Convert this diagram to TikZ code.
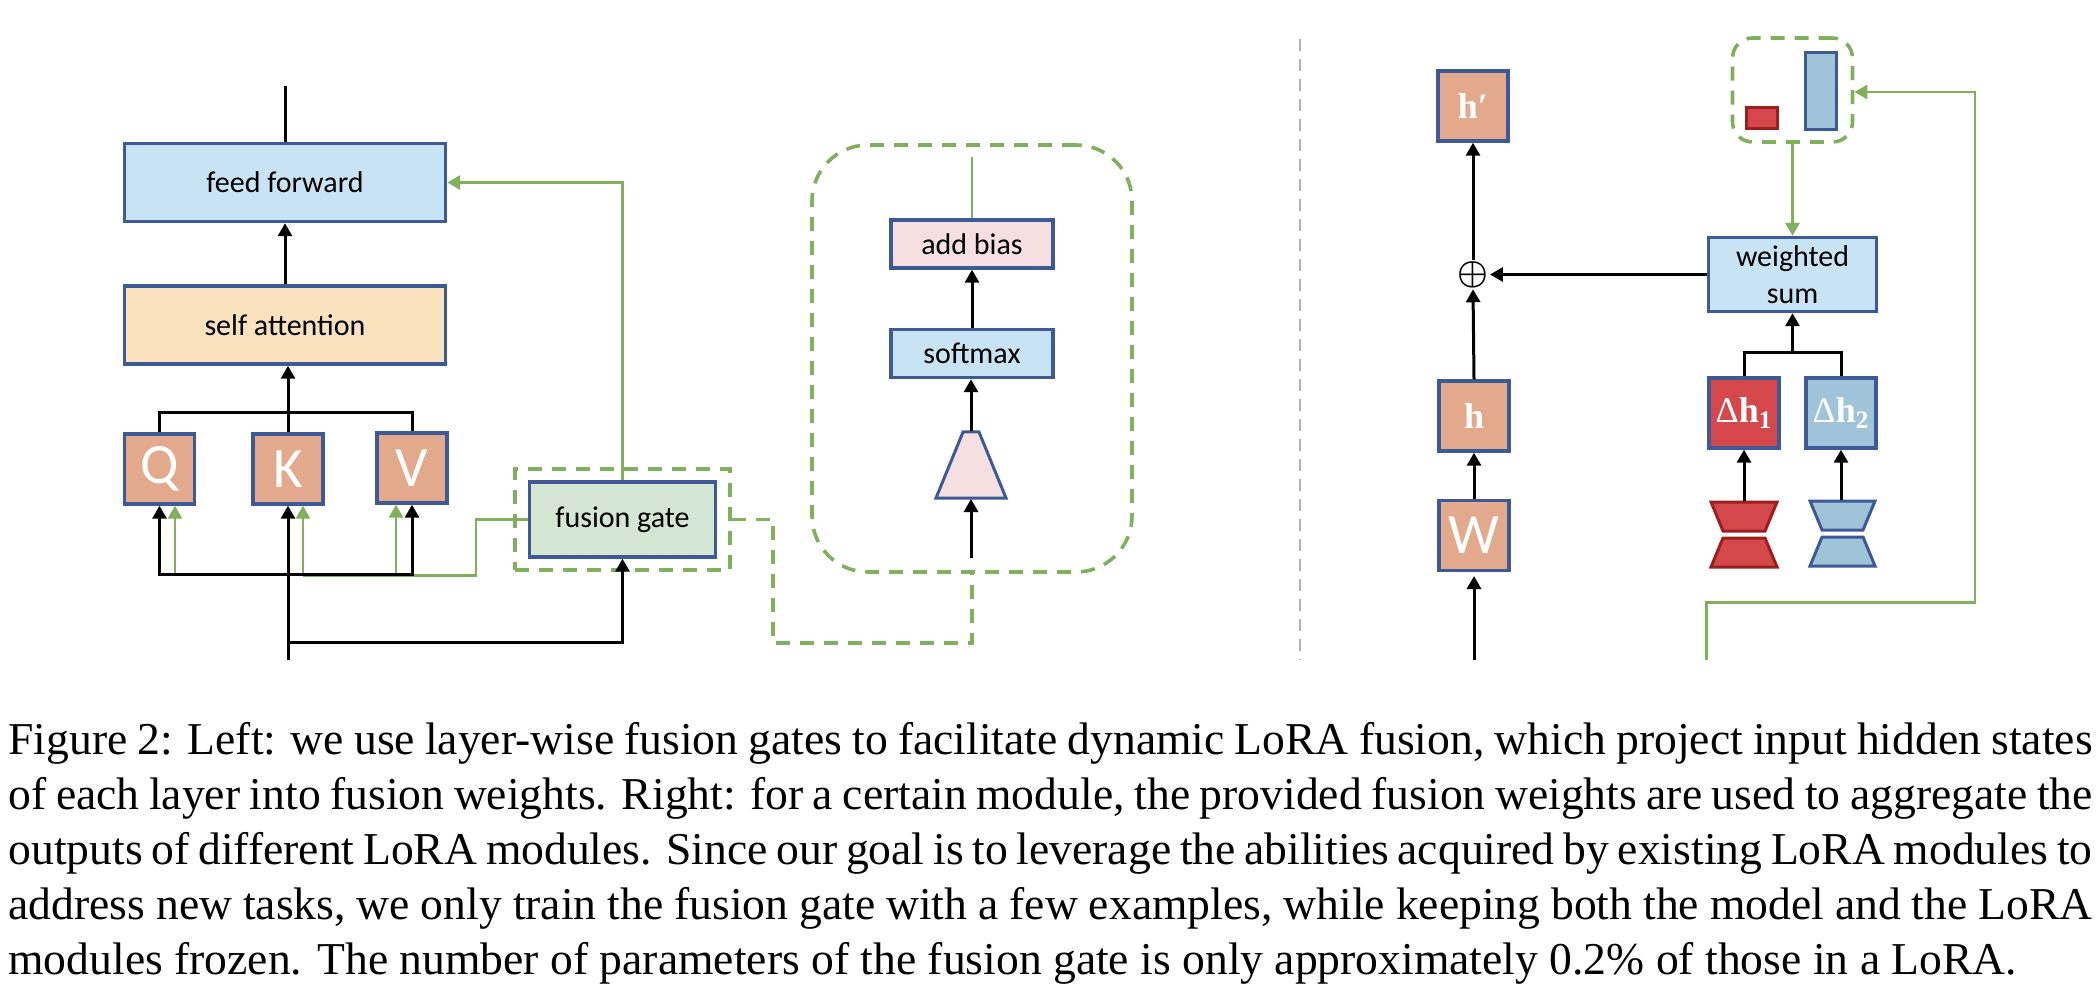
\documentclass[tikz,border=0pt]{standalone}
\usepackage{fontspec}
\setmainfont{Liberation Serif}
\newfontfamily\gillfont{Carlito}
\usetikzlibrary{arrows.meta}
\definecolor{boxline}{HTML}{3D5A96}
\definecolor{gateline}{HTML}{80B05C}
\definecolor{bluefill}{HTML}{C8E4F4}
\definecolor{sandfill}{HTML}{FAE2BE}
\definecolor{hiddenfill}{HTML}{E3A98C}
\definecolor{gatefill}{HTML}{D2E6D2}
\definecolor{pinkfill}{HTML}{F6DFE1}
\definecolor{redfill}{HTML}{D4484C}
\definecolor{redline}{HTML}{9C1F1F}
\definecolor{steelfill}{HTML}{9FC4DA}
\begin{document}
\begin{tikzpicture}[
        x=0.5pt, y=-0.5pt,
        >={Triangle[length=6.5pt,width=7pt]},
        every path/.style={line width=1.5pt, line cap=butt},
        block/.style={rectangle, draw=boxline, line width=1.7pt, inner sep=0pt, font=\gillfont\fontsize{15}{18.5}\selectfont},
        wide_block/.style={block, minimum width=160.5pt, minimum height=39pt},
        thin_block/.style={block, minimum width=81pt, minimum height=24pt},
        hidden/.style={block, fill=hiddenfill, text=white, minimum width=35pt, minimum height=35pt},
        letter/.style={hidden, font=\gillfont\fontsize{28.5}{28.5}\selectfont},
        state/.style={hidden, font=\bfseries\fontsize{18}{18}\selectfont},
        lora_out/.style={state, font=\fontsize{18}{18}\selectfont},
        trap/.style={draw=boxline, line width=1.5pt, line join=miter},
        green/.style={draw=gateline, line width=1.4pt},
        green_dash/.style={draw=gateline, line width=1.8pt, dash pattern=on 7pt off 5pt},
        dash_box/.style={rectangle, green_dash, inner sep=0pt}
    ]
        \useasboundingbox (0,0) rectangle (2098,994);

        % Left: transformer layer
        \node[wide_block, fill=bluefill] (ff) at (285,182.5) {feed forward};
        \node[wide_block, fill=sandfill] (sa) at (285,325) {self attention};
        \node[letter] (q) at (159.5,469) {Q};
        \node[letter] (k) at (288,469) {K};
        \node[letter] (v) at (412,468) {V};

        % Fusion gate
        \node[dash_box, minimum width=107.5pt, minimum height=50.5pt] (gate_box) at (622.5,519.5) {};
        \node[block, fill=gatefill, minimum width=93pt, minimum height=37.5pt] (gate) at (622.5,519.5) {fusion gate};

        % Inside of the gate
        \node[dash_box, minimum width=160pt, minimum height=213.5pt, rounded corners=28pt] (big_box) at (972,358.5) {};
        \node[thin_block, fill=pinkfill] (bias) at (972,244) {add bias};
        \node[thin_block, fill=bluefill] (softmax) at (972,353.5) {softmax};
        \draw[trap, fill=pinkfill] (963,432) -- (979,432) -- (1006,498) -- (936,498) -- cycle;

        % Coordinates for free ends and bars
        \coordinate (out_top) at (285,86);
        \coordinate (in_k) at (288,660);
        \coordinate (bar_top) at (288,413);
        \coordinate (bar_q) at (159.5,574);
        \coordinate (bar_v) at (412,574);
        \coordinate (in_gate) at (288,642);
        \coordinate (green_q) at (175,575);
        \coordinate (green_k) at (303,575.5);
        \coordinate (green_v) at (396,575.5);
        \coordinate (green_turn) at (476,575.5);
        \coordinate (dash_turn) at (773,643);
        \coordinate (bias_out) at (972,157);
        \coordinate (proj_in) at (971,558);
        \coordinate (proj_bottom) at (971,499);
        \coordinate (proj_top) at (971,431);

        % Green connections left
        \draw[green, ->] (gate.north) |- (ff.east);
        \draw[green] (gate.west) -| (green_turn) -- (green_k);
        \draw[green, ->] (green_q) -- (green_q |- q.south);
        \draw[green, ->] (green_k) -- (green_k |- k.south);
        \draw[green, ->] (green_v) -- (green_v |- v.south);
        \draw[green_dash] (gate_box.east) -| (dash_turn) -| (big_box.south);
        \draw[green] (bias.north) -- (bias_out);

        % Black connections left
        \draw (ff.north) -- (out_top);
        \draw[->] (sa.north) -- (ff.south);
        \draw[->] (k.north) -- (k.north |- sa.south);
        \draw (q.north) |- (bar_top) -| (v.north);
        \draw[->] (in_k) -- (k.south);
        \draw[->, line cap=rect] (bar_v) -- (bar_q) -- (q.south);
        \draw[->] (bar_v) -- (v.south);
        \draw[->] (in_gate) -| (gate.south);
        \draw[->] (softmax.north) -- (bias.south);
        \draw[->] (proj_top) -- (proj_top |- softmax.south);
        \draw[->] (proj_in) -- (proj_bottom);

        % Separator
        \coordinate (sep_top) at (1300,39);
        \coordinate (sep_bottom) at (1300,660);
        \draw[draw=black!30, line width=1.2pt, dash pattern=on 6pt off 4pt] (sep_top) -- (sep_bottom);

        % Right: one module
        \node[state] (h_new) at (1473,106) {h′};
        \node[inner sep=0pt, font=\fontsize{17.28}{17.28}\selectfont\boldmath] (sum) at (1473,274.5) {$\oplus$};
        \node[state] (h) at (1474,416) {h};
        \node[letter] (w) at (1474,535.5) {W};
        \node[block, fill=bluefill, minimum width=84pt, minimum height=37pt, align=center] (ws) at (1792.5,274.5) {weighted\\sum};
        \node[lora_out, fill=redfill] (dh1) at (1744,413) {Δ\textbf{h\textsubscript{1}}};
        \node[lora_out, fill=steelfill] (dh2) at (1841,413) {Δ\textbf{h\textsubscript{2}}};

        % LoRA modules
        \draw[trap, draw=redline, fill=redfill] (1711,502) -- (1777,502) -- (1765,531) -- (1723,531) -- cycle;
        \draw[trap, draw=redline, fill=redfill] (1723,538) -- (1765,538) -- (1777,567) -- (1711,567) -- cycle;
        \draw[trap, fill=steelfill] (1810,501) -- (1875,501) -- (1863,530) -- (1822,530) -- cycle;
        \draw[trap, fill=steelfill] (1822,537) -- (1863,537) -- (1875,566) -- (1810,566) -- cycle;
        \coordinate (red_top) at (1744,501);
        \coordinate (blue_top) at (1841,500);

        % Fusion weights
        \node[dash_box, minimum width=60pt, minimum height=52pt, rounded corners=10pt] (weights) at (1792.5,90) {};
        \node[rectangle, draw=redline, fill=redfill, line width=1.5pt, minimum width=15.5pt, minimum height=10.5pt, inner sep=0pt] (w_red) at (1762,118.5) {};
        \node[rectangle, draw=boxline, fill=steelfill, line width=1.5pt, minimum width=15.5pt, minimum height=38.5pt, inner sep=0pt] (w_blue) at (1820.5,91) {};

        \coordinate (in_w) at (1474,660);
        \coordinate (w_tip) at (1474,576);
        \coordinate (bar_delta) at (1792.5,353);
        \coordinate (fb_start) at (1706.5,660);
        \coordinate (fb_low) at (1975,602.5);
        \coordinate (fb_high) at (1975,92);

        \draw[->] (in_w) -- (w_tip);
        \draw[->] (w.north) -- (h.south);
        \draw[->] (h.north) -- (sum.south);
        \draw[->] (sum.north) -- (h_new.south);
        \draw[->] (ws.west) -- (sum.east);
        \draw (dh1.north) |- (bar_delta) -| (dh2.north);
        \draw[->] (bar_delta) -- (ws.south);
        \draw[->] (red_top) -- (dh1.south);
        \draw[->] (blue_top) -- (dh2.south);
        \draw[green, ->] (weights.south) -- (ws.north);
        \draw[green, ->] (fb_start) |- (fb_low) -- (fb_high) -- (fb_high -| weights.east);

        % Caption
        \node[anchor=north west, inner sep=0pt, text width=1042pt, align=justify, font=\fontsize{22.8}{27.5}\selectfont] (caption) at (7,721) {Figure 2: Left: we use layer-wise fusion gates to facilitate dynamic LoRA fusion, which project input hidden states\linebreak
        of each layer into fusion weights. Right: for a certain module, the provided fusion weights are used to aggregate the\linebreak
        outputs of different LoRA modules. Since our goal is to leverage the abilities acquired by existing LoRA modules to\linebreak
        address new tasks, we only train the fusion gate with a few examples, while keeping both the model and the LoRA\linebreak
        modules frozen. The number of parameters of the fusion gate is only approximately 0.2\% of those in a LoRA.};
    \end{tikzpicture}
\end{document}
